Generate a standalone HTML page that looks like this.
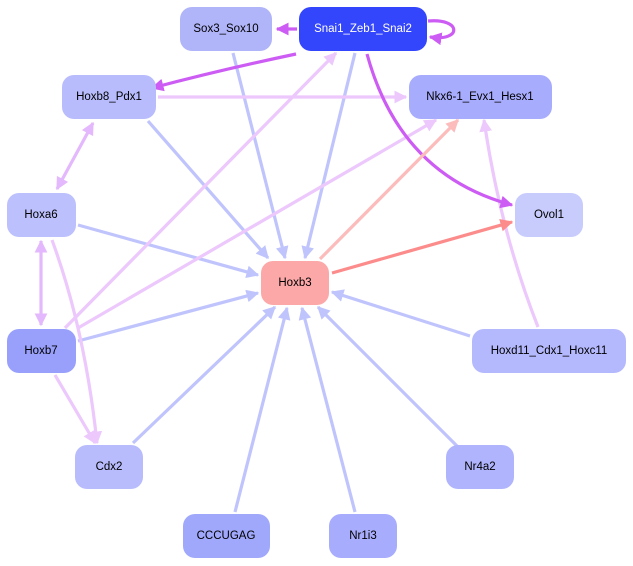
<!DOCTYPE html>
<html><head><style>
html,body{margin:0;padding:0;background:#fff;}
svg{display:block;}
text{font-family:"Liberation Sans",sans-serif;font-size:11.5px;text-anchor:middle;dominant-baseline:central;}
</style></head><body>
<svg width="633" height="566" viewBox="0 0 633 566" xmlns="http://www.w3.org/2000/svg">
<defs>
<marker id="b" viewBox="0 0 10 10" refX="9" refY="5" markerWidth="4" markerHeight="4" orient="auto-start-reverse" markerUnits="strokeWidth"><path d="M0,0L10,5L0,10z" fill="#c0c4fc"/></marker>
<marker id="p" viewBox="0 0 10 10" refX="9" refY="5" markerWidth="4" markerHeight="4" orient="auto-start-reverse" markerUnits="strokeWidth"><path d="M0,0L10,5L0,10z" fill="#ecc8fc"/></marker>
<marker id="pp" viewBox="0 0 10 10" refX="9" refY="5" markerWidth="4" markerHeight="4" orient="auto-start-reverse" markerUnits="strokeWidth"><path d="M0,0L10,5L0,10z" fill="#e4b8fc"/></marker>
<marker id="m" viewBox="0 0 10 10" refX="9" refY="5" markerWidth="4" markerHeight="4" orient="auto-start-reverse" markerUnits="strokeWidth"><path d="M0,0L10,5L0,10z" fill="#cc5cf4"/></marker>
<marker id="r" viewBox="0 0 10 10" refX="9" refY="5" markerWidth="4" markerHeight="4" orient="auto-start-reverse" markerUnits="strokeWidth"><path d="M0,0L10,5L0,10z" fill="#fc8c8c"/></marker>
<marker id="lr" viewBox="0 0 10 10" refX="9" refY="5" markerWidth="4" markerHeight="4" orient="auto-start-reverse" markerUnits="strokeWidth"><path d="M0,0L10,5L0,10z" fill="#fcbcbc"/></marker>
</defs>
<g fill="none" stroke-width="3.2">
<g stroke="#c0c4fc" marker-end="url(#b)">
<path d="M233,53L285,258"/>
<path d="M355,53L305,258"/>
<path d="M148,121L268,258"/>
<path d="M78,225L258,275"/>
<path d="M78,341L258,293"/>
<path d="M470,336L332,292"/>
<path d="M133,443L275,307"/>
<path d="M458,447L318,307"/>
<path d="M235,512L287,308"/>
<path d="M355,512L302,308"/>
</g>
<g stroke="#ecc8fc" marker-end="url(#p)">
<path d="M158,97L406,97"/>
<path d="M65,328L336,53"/>
<path d="M78,328L436,120"/>
<path d="M55,375L95,443"/>
<path d="M52,240Q85,330 97,443"/>
<path d="M538,327Q500,230 484,120"/>
</g>
<g stroke="#e4b8fc" marker-end="url(#pp)" marker-start="url(#pp)">
<path d="M93,123L57,189"/>
<path d="M41,241L41,325"/>
</g>
<g stroke="#cc5cf4" marker-end="url(#m)">
<path d="M297,29L277,29"/>
<path d="M296,54Q220,70 152,88"/>
<path d="M367,54Q400,175 512,205"/>
<path d="M428,21C462,18 462,42 430,37"/>
</g>
<path d="M332,273L512,222" stroke="#fc8c8c" marker-end="url(#r)"/>
<path d="M320,259L458,120" stroke="#fcbcbc" marker-end="url(#lr)"/>
</g>
<g>
<rect x="180" y="7" width="92" height="44" rx="12" fill="#b0b4f8"/><text x="226" y="29">Sox3_Sox10</text>
<rect x="299" y="7" width="128" height="44" rx="12" fill="#3446fc"/><text x="363" y="29" fill="#fff">Snai1_Zeb1_Snai2</text>
<rect x="62" y="75" width="94" height="44" rx="12" fill="#b8bcfc"/><text x="109" y="97">Hoxb8_Pdx1</text>
<rect x="409" y="75" width="143" height="44" rx="12" fill="#a8acfc"/><text x="480" y="97">Nkx6-1_Evx1_Hesx1</text>
<rect x="7" y="193" width="69" height="44" rx="12" fill="#bcc0fc"/><text x="41" y="215">Hoxa6</text>
<rect x="515" y="193" width="68" height="44" rx="12" fill="#c8ccfc"/><text x="549" y="215">Ovol1</text>
<rect x="261" y="261" width="68" height="44" rx="12" fill="#fca8a8"/><text x="295" y="283">Hoxb3</text>
<rect x="7" y="329" width="69" height="44" rx="12" fill="#98a0fc"/><text x="41" y="351">Hoxb7</text>
<rect x="472" y="329" width="154" height="44" rx="12" fill="#b4b8fc"/><text x="549" y="351">Hoxd11_Cdx1_Hoxc11</text>
<rect x="75" y="445" width="68" height="44" rx="12" fill="#b8bcfc"/><text x="109" y="467">Cdx2</text>
<rect x="446" y="445" width="68" height="44" rx="12" fill="#b0b4fc"/><text x="480" y="467">Nr4a2</text>
<rect x="183" y="514" width="87" height="44" rx="12" fill="#a0a8fc"/><text x="226" y="536">CCCUGAG</text>
<rect x="329" y="514" width="68" height="44" rx="12" fill="#a8acfc"/><text x="363" y="536">Nr1i3</text>
</g>
</svg>
</body></html>
